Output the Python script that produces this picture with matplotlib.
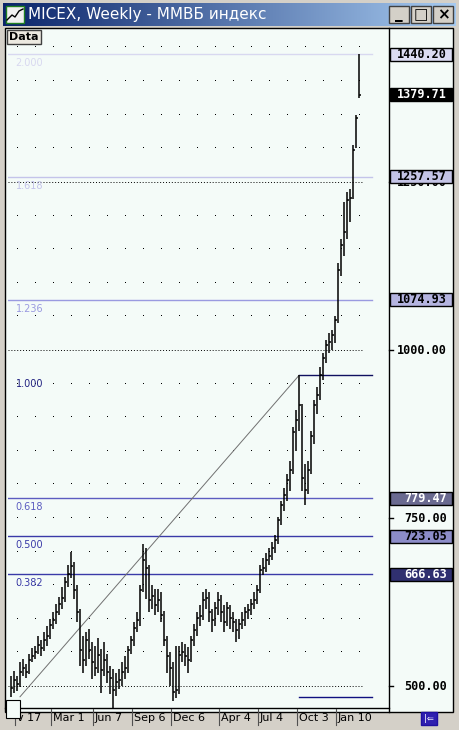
import matplotlib.pyplot as plt
import matplotlib.patches as patches
import numpy as np

# weekly bars, Nov 2003 .. Jan 2006
closes = [497, 509, 503, 521, 527, 521, 539, 545, 551, 561, 557, 568, 574, 591, 598, 610, 622, 631, 655, 667,
          679, 643, 610, 554, 539, 568, 554, 536, 527, 546, 524, 539, 521, 512, 494, 506, 509, 521, 527, 554,
          568, 586, 598, 643, 687, 676, 628, 634, 621, 628, 606, 568, 545, 527, 491, 494, 546, 551, 545, 539,
          568, 583, 601, 604, 628, 631, 610, 598, 616, 628, 610, 595, 616, 601, 595, 583, 592, 598, 610, 613,
          622, 628, 643, 673, 676, 687, 693, 705, 717, 747, 769, 784, 807, 821, 878, 896, 918, 809, 791, 821,
          872, 918, 933, 963, 988, 1007, 1012, 1022, 1044, 1119, 1156, 1175, 1223, 1226, 1298, 1345, 1380]
highs = [515, 522, 515, 535, 540, 533, 548, 556, 560, 575, 568, 580, 590, 600, 610, 622, 632, 648, 662, 680,
         700, 685, 650, 615, 575, 580, 585, 565, 560, 572, 555, 565, 548, 530, 525, 520, 525, 535, 545, 560,
         575, 595, 610, 650, 712, 705, 680, 650, 645, 645, 640, 612, 575, 550, 535, 560, 560, 565, 562, 558,
         575, 592, 610, 620, 640, 645, 640, 615, 625, 640, 635, 620, 625, 620, 610, 600, 600, 610, 618, 622,
         630, 640, 650, 680, 690, 698, 705, 715, 725, 752, 775, 795, 815, 835, 885, 910, 963, 920, 830, 835,
         880, 925, 945, 975, 995, 1015, 1025, 1030, 1050, 1130, 1165, 1220, 1235, 1240, 1305, 1350, 1440]
lows = [483, 490, 492, 498, 515, 512, 518, 535, 540, 548, 545, 552, 560, 570, 585, 592, 605, 615, 625, 648,
        660, 630, 595, 530, 520, 530, 540, 510, 515, 520, 490, 515, 505, 488, 465, 485, 495, 500, 510, 520,
        548, 560, 580, 590, 640, 630, 610, 615, 605, 610, 595, 560, 520, 500, 478, 482, 488, 535, 530, 520,
        535, 560, 575, 590, 598, 615, 595, 580, 590, 605, 595, 580, 590, 585, 580, 565, 570, 585, 590, 600,
        605, 615, 622, 638, 665, 670, 680, 688, 698, 712, 740, 760, 775, 790, 815, 850, 880, 790, 770, 785,
        815, 860, 905, 925, 955, 980, 995, 1000, 1010, 1040, 1110, 1140, 1165, 1190, 1225, 1300, 1375]

fib_low, fib_high = 484.0, 962.1
fib_levels = [0.382, 0.5, 0.618, 1.236, 1.618, 2.0]
fib_labels = ['0.382', '0.500', '0.618', '1.236', '1.618', '2.000']
fib_colors = ['#3a3aa8', '#3a3aa8', '#5c5cc0', '#9a9ae0', '#c4c4ea', '#d8d8f0']

date_labels = ['v 17', 'Mar 1', 'Jun 7', 'Sep 6', 'Dec 6', 'Apr 4', 'Jul 4', 'Oct 3', 'Jan 10']
date_idx = [2, 14, 28, 41, 54, 70, 83, 96, 109]

right_labels = [(1440.20, '#dcdcf2', 'black'), (1379.71, 'black', 'white'), (1257.57, '#c4c4e6', 'black'),
                (1074.93, '#b4b4e0', 'black'), (779.47, '#6a6a90', 'white'), (723.05, '#8c8cc8', 'black'),
                (666.63, '#303070', 'white')]
plain_labels = [1250.00, 1000.00, 750.00, 500.00]

W, H = 459, 730
fig = plt.figure(figsize=(W / 100, H / 100), dpi=100)
bg = fig.add_axes([0, 0, 1, 1])
bg.set_xlim(0, W)
bg.set_ylim(H, 0)
bg.axis('off')

# window chrome
bg.add_patch(patches.Rectangle((0, 0), W, H, color='#d4d0c8'))
grad = np.linspace(0, 1, 256).reshape(1, -1)
bg.imshow(grad, extent=(3, W - 3, 26, 3), cmap=plt.matplotlib.colors.LinearSegmentedColormap.from_list(
    't', ['#0a246a', '#a6caf0']), aspect='auto', zorder=1)
bg.add_patch(patches.Rectangle((6, 6), 18, 17, facecolor='#f0f0f0', edgecolor='#208020', lw=1, zorder=2))
bg.plot([7, 12, 15, 19, 23], [20, 15, 17, 11, 9], color='black', lw=1, zorder=3)
bg.text(28, 15, 'MICEX, Weekly - ММВБ индекс', color='white', fontsize=11, va='center',
        family='DejaVu Sans', zorder=3)
for bx, sym in [(389, '_'), (411, '□'), (433, '×')]:
    bg.add_patch(patches.Rectangle((bx, 6), 20, 17, facecolor='#d4d0c8', edgecolor='#404040', lw=1, zorder=2))
    bg.text(bx + 10, 14.5, sym, fontsize=11, ha='center', va='center', weight='bold', zorder=3)
bg.add_patch(patches.Rectangle((5, 28), 448, 684, facecolor='#f4fbf8', edgecolor='black', lw=1, zorder=1))
bg.plot([389, 389], [28, 712], color='black', lw=1, zorder=2)
bg.add_patch(patches.Rectangle((7, 30), 34, 14, facecolor='#ece9e0', edgecolor='#404040', lw=1, zorder=2))
bg.text(9, 37, 'Data', fontsize=8, weight='bold', va='center', zorder=3)
bg.add_patch(patches.Rectangle((421, 712), 16, 13, facecolor='#3020b0', edgecolor='#2010a0', zorder=2))
bg.text(429, 718.5, '|⇐', color='white', fontsize=6, ha='center', va='center', zorder=3)
bg.add_patch(patches.Rectangle((6, 700), 14, 18, facecolor='#f4fbf8', edgecolor='black', lw=0.8, zorder=6))

# price chart
L, R, T, B = 8, 388, 30, 708
ax = fig.add_axes([L / W, 1 - B / H, (R - L) / W, (B - T) / H])
ax.set_xlim(-1, 125.67)
ax.set_ylim(467.3, 1476)
ax.patch.set_alpha(0)
for s in ax.spines.values():
    s.set_visible(False)
ax.set_xticks([])
ax.set_yticks([])

x = np.arange(len(closes))
dot_x = np.arange(2, 120, 6)
for lv in range(500, 1451, 50):
    if lv in (500, 1000, 1250):
        ax.plot([-1, 117], [lv, lv], color='black', lw=0.7, ls=(0, (1, 2)))
    else:
        ax.plot(dot_x, [lv] * len(dot_x), ls='none', marker=',', color='black')

for lvl, lab, c in zip(fib_levels, fib_labels, fib_colors):
    p = fib_low + lvl * (fib_high - fib_low)
    ax.plot([-1, 120.3], [p, p], color=c, lw=1)
    ax.text(1.5, p - 6, lab, fontsize=7, color=c, va='top')
ax.plot([96, 120.3], [fib_high, fib_high], color='#101060', lw=1)
ax.text(1.5, fib_high - 6, '1.000', fontsize=7, color='#202080', va='top')
ax.plot([96, 120.3], [fib_low, fib_low], color='#101080', lw=1)
ax.plot([3, 96], [fib_low, fib_high], color='#707070', lw=0.7)

ax.vlines(x, lows, highs, color='black', lw=1.1)
ax.hlines(closes, x, x + 0.7, color='black', lw=1.1)

# right price labels
for v in plain_labels:
    yp = 686 - (v - 500) * 0.672
    bg.text(447, yp + 1, f'{v:.2f}', fontsize=8.5, weight='bold', ha='right', va='center',
            family='DejaVu Sans Mono', zorder=4)
    bg.plot([389, 393], [yp, yp], color='black', lw=1, zorder=4)
for v, fc, tc in right_labels:
    yp = 686 - (v - 500) * 0.672
    bg.add_patch(patches.Rectangle((390, yp - 6.5), 62, 13, facecolor=fc, edgecolor='black', lw=1, zorder=4))
    bg.text(447, yp, f'{v:.2f}', fontsize=8.5, weight='bold', ha='right', va='center', color=tc,
            family='DejaVu Sans Mono', zorder=5)

# date axis
bg.plot([5, 389], [708, 708], color='black', lw=1, zorder=3)
for lab, i in zip(date_labels, date_idx):
    px = 11 + 3 * i
    bg.plot([px - 2, px - 2], [709, 725], color='#505050', lw=0.8, zorder=3)
    bg.text(px, 718, lab, fontsize=8, va='center', zorder=3)

fig.savefig('out.png', dpi=100)
